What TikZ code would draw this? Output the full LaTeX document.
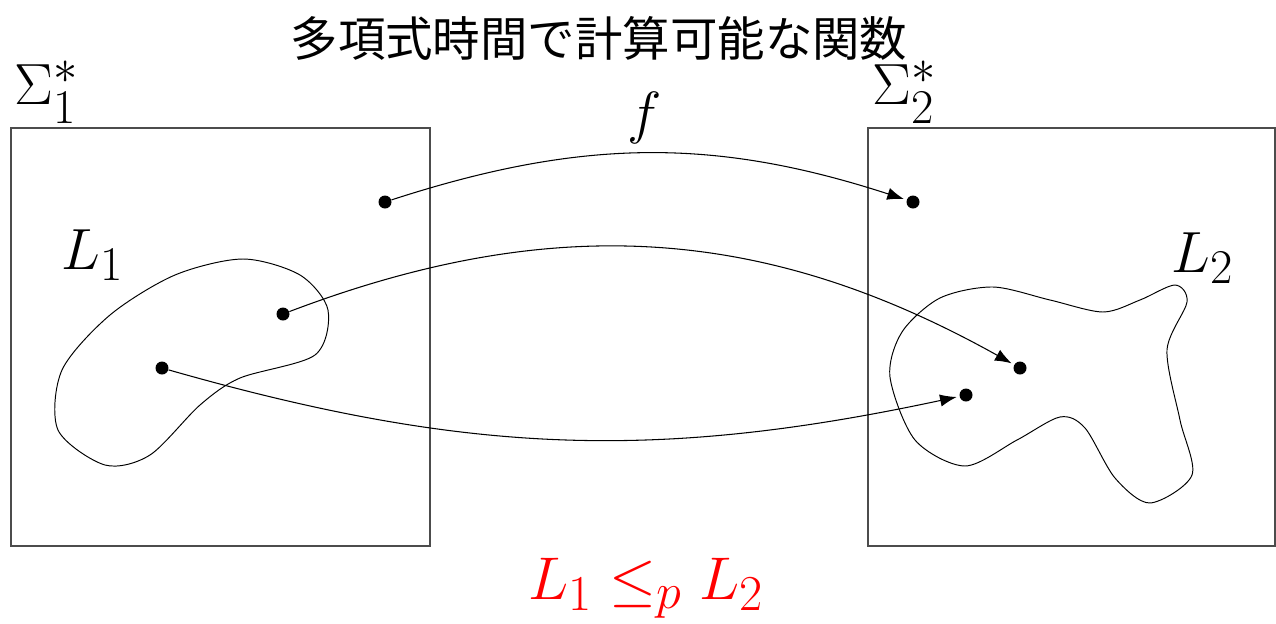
\documentclass[tikz,border=0pt]{standalone}
\usepackage{fontspec}
\usepackage{amsmath}
\usepackage{amssymb}
\usetikzlibrary{arrows.meta}
\newfontfamily\jpfont{Noto Sans CJK JP}

\begin{document}
\begin{tikzpicture}[x=0.02cm, y=-0.02cm,
  every node/.style={inner sep=0pt},
  dot/.style={circle, fill=black, minimum size=0.26cm},
  setbox/.style={draw=black!70, line width=0.8pt},
  blob/.style={line width=0.55pt},
  map/.style={line width=0.6pt, -{Latex[length=9.5pt, width=7pt]}, shorten >=1.5pt},
  lbl/.style={font=\fontsize{24.88}{30}\selectfont, scale=1.33}]
  \useasboundingbox (0,0) rectangle (1276,623);
  \draw[setbox] (11,128) rectangle (430,546);
  \draw[setbox] (868,128) rectangle (1275,546);
  \draw[blob] plot[smooth cycle] coordinates {(243,259) (300,275) (328,310) (315,355) (240,378) (200,405) (150,455) (105,465) (58,430) (62,370) (110,315) (175,275)};
  \draw[blob] plot[smooth cycle] coordinates {(890,377) (902,332) (940,298) (993,287) (1050,300) (1103,312) (1140,300) (1175,285) (1187,302) (1167,350) (1180,420) (1192,475) (1150,503) (1115,478) (1085,428) (1060,417) (1017,440) (965,466) (915,440)};
  \node[dot] (x1) at (385,202) {};
  \node[dot] (x2) at (283,314) {};
  \node[dot] (x3) at (162,368) {};
  \node[dot] (y1) at (913,202) {};
  \node[dot] (y2) at (1020,368) {};
  \node[dot] (y3) at (966,395) {};
  \draw[map] (x1) to[bend left=18] (y1);
  \draw[map] (x2) to[bend left=25] (y2);
  \draw[map] (x3) to[bend right=14] (y3);
  \node[lbl] (sig1) at (47,92) {$\Sigma_1^*$};
  \node[lbl] (sig2) at (905,92) {$\Sigma_2^*$};
  \node[lbl] (fmap) at (645,118) {$f$};
  \node[lbl] (lang1) at (93,255) {$L_1$};
  \node[lbl] (lang2) at (1203,258) {$L_2$};
  \node[font=\jpfont\fontsize{27}{32}\selectfont] (title) at (599,38) {多項式時間で計算可能な関数};
  \node[text=red, font=\fontsize{24.88}{30}\selectfont, scale=1.38] (redu) at (646,588) {$L_1 \leq_p L_2$};
\end{tikzpicture}
\end{document}
